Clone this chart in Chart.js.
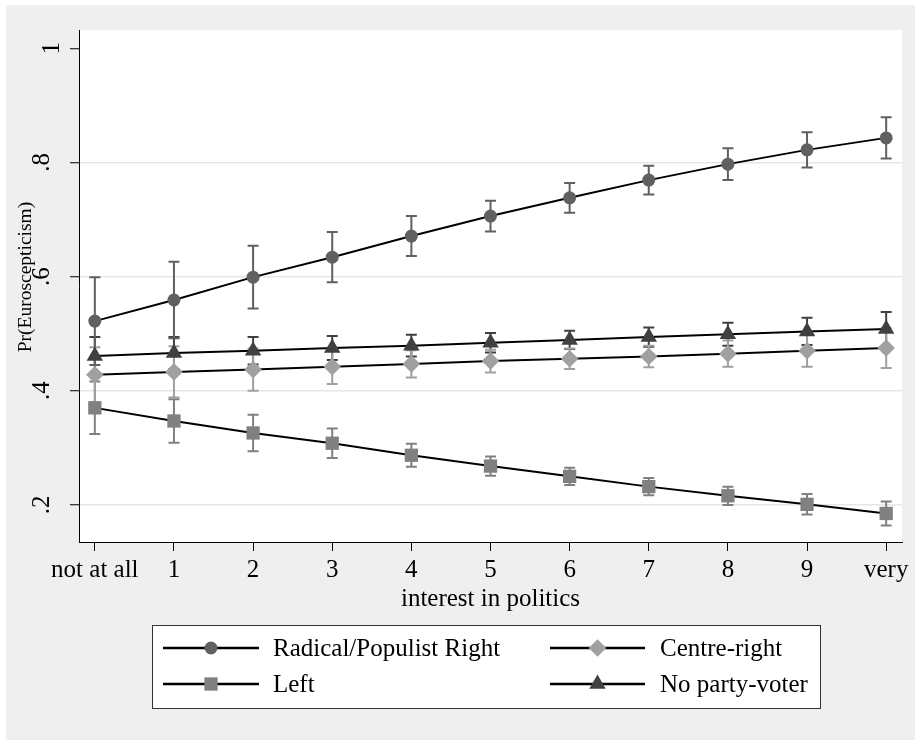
<!DOCTYPE html>
<html lang="en">
<head>
    <meta charset="UTF-8">
    <title>Pr(Euroscepticism) by interest in politics</title>
    <script src="https://cdn.jsdelivr.net/npm/chart.js"></script>
    <style>
        body {
            margin: 0;
            padding: 0;
            background-color: #ffffff;
        }

        #wrap {
            width: 915px;
            height: 740px;
        }
    </style>
</head>
<body>
    <div id="wrap">
        <canvas id="myChart" width="915" height="740"></canvas>
    </div>

    <script>
        // x positions and their tick labels
        var xVals = [0, 1, 2, 3, 4, 5, 6, 7, 8, 9, 10];
        var xLabels = ['not at all', '1', '2', '3', '4', '5', '6', '7', '8', '9', 'very'];
        var yTicks = [0.2, 0.4, 0.6, 0.8, 1];
        var yTickLabels = ['.2', '.4', '.6', '.8', '1'];

        // predicted probabilities with confidence bounds
        var radical   = [0.522, 0.559, 0.599, 0.634, 0.671, 0.706, 0.738, 0.769, 0.797, 0.822, 0.843];
        var radicalLo = [0.445, 0.492, 0.544, 0.590, 0.636, 0.679, 0.712, 0.744, 0.769, 0.791, 0.807];
        var radicalHi = [0.599, 0.626, 0.654, 0.678, 0.706, 0.733, 0.764, 0.794, 0.825, 0.853, 0.879];

        var centre   = [0.428, 0.433, 0.437, 0.442, 0.447, 0.452, 0.456, 0.460, 0.465, 0.470, 0.475];
        var centreLo = [0.380, 0.388, 0.400, 0.412, 0.423, 0.432, 0.438, 0.441, 0.442, 0.442, 0.440];
        var centreHi = [0.476, 0.478, 0.474, 0.472, 0.471, 0.472, 0.474, 0.479, 0.488, 0.498, 0.510];

        var left   = [0.370, 0.347, 0.326, 0.308, 0.287, 0.268, 0.250, 0.232, 0.216, 0.201, 0.185];
        var leftLo = [0.324, 0.309, 0.294, 0.282, 0.267, 0.251, 0.235, 0.217, 0.200, 0.183, 0.164];
        var leftHi = [0.416, 0.385, 0.358, 0.334, 0.307, 0.285, 0.265, 0.247, 0.232, 0.219, 0.206];

        var noParty   = [0.461, 0.466, 0.470, 0.475, 0.479, 0.484, 0.489, 0.494, 0.499, 0.504, 0.508];
        var noPartyLo = [0.428, 0.438, 0.446, 0.454, 0.460, 0.467, 0.473, 0.477, 0.479, 0.480, 0.478];
        var noPartyHi = [0.494, 0.494, 0.494, 0.496, 0.498, 0.501, 0.505, 0.511, 0.519, 0.528, 0.538];

        var FONT = '"Liberation Serif", "DejaVu Serif", serif';

        function pts(ys) {
            return xVals.map(function (x, i) { return { x: x, y: ys[i] }; });
        }

        function series(label, ys, lo, hi, color, style, radius) {
            return {
                label: label,
                data: pts(ys),
                lo: lo,
                hi: hi,
                borderColor: '#000000',
                borderWidth: 2,
                backgroundColor: color,
                pointBackgroundColor: color,
                pointBorderColor: color,
                pointBorderWidth: 0,
                pointStyle: style,
                pointRadius: radius,
                pointHoverRadius: radius,
                tension: 0,
                fill: false
            };
        }

        // background: grey graph region, white plot region
        var backgroundPlugin = {
            id: 'background',
            beforeDraw: function (chart) {
                var c = chart.ctx, a = chart.chartArea;
                c.save();
                c.fillStyle = '#ffffff';
                c.fillRect(0, 0, chart.width, chart.height);
                c.fillStyle = '#efefef';
                c.fillRect(6, 5, chart.width - 6, chart.height - 5);
                c.fillStyle = '#ffffff';
                c.fillRect(a.left, a.top, a.right - a.left, a.bottom - a.top);
                c.restore();
            }
        };

        // capped error bars, drawn under the lines and markers
        var errorBarPlugin = {
            id: 'errorBars',
            beforeDatasetsDraw: function (chart) {
                var c = chart.ctx;
                var xs = chart.scales.x, ys = chart.scales.y;
                var cap = 5.5;
                c.save();
                for (var d = chart.data.datasets.length - 1; d >= 0; d--) {
                    var ds = chart.data.datasets[d];
                    c.strokeStyle = ds.pointBackgroundColor;
                    c.lineWidth = 2;
                    for (var i = 0; i < xVals.length; i++) {
                        var px = xs.getPixelForValue(xVals[i]);
                        var p1 = ys.getPixelForValue(ds.lo[i]);
                        var p2 = ys.getPixelForValue(ds.hi[i]);
                        c.beginPath();
                        c.moveTo(px, p1); c.lineTo(px, p2);
                        c.moveTo(px - cap, p1); c.lineTo(px + cap, p1);
                        c.moveTo(px - cap, p2); c.lineTo(px + cap, p2);
                        c.stroke();
                    }
                }
                c.restore();
            }
        };

        // rotated y tick labels, axis titles and the boxed legend
        var textPlugin = {
            id: 'texts',
            afterDraw: function (chart) {
                var c = chart.ctx, a = chart.chartArea;
                var ys = chart.scales.y;
                c.save();
                c.fillStyle = '#000000';

                // y tick labels (rotated, Stata style)
                c.font = '25px ' + FONT;
                c.textAlign = 'center';
                c.textBaseline = 'alphabetic';
                for (var i = 0; i < yTicks.length; i++) {
                    var py = ys.getPixelForValue(yTicks[i]);
                    var bx0 = yTickLabels[i].length === 1 ? 59 : 49;
                    c.save();
                    c.translate(bx0, py);
                    c.rotate(-Math.PI / 2);
                    c.fillText(yTickLabels[i], 0, 0);
                    c.restore();
                }

                // y axis title
                c.font = '19.5px ' + FONT;
                c.save();
                c.translate(31, 277);
                c.rotate(-Math.PI / 2);
                c.fillText('Pr(Euroscepticism)', 0, 0);
                c.restore();

                // x axis title
                c.font = '25px ' + FONT;
                c.fillText('interest in politics', (a.left + a.right) / 2, 606);

                // legend
                var bx = 152.5, by = 625.5, bw = 668, bh = 83;
                c.fillStyle = '#ffffff';
                c.fillRect(bx, by, bw, bh);
                c.strokeStyle = '#333333';
                c.lineWidth = 1;
                c.strokeRect(bx, by, bw, bh);

                var cols = [{ x0: 163, x1: 259, tx: 273 }, { x0: 550, x1: 645, tx: 660 }];
                var rows = [648, 684];
                chart.data.datasets.forEach(function (ds, k) {
                    var col = cols[k % 2], ry = rows[Math.floor(k / 2)];
                    c.strokeStyle = '#000000';
                    c.lineWidth = 2.5;
                    c.beginPath();
                    c.moveTo(col.x0, ry);
                    c.lineTo(col.x1, ry);
                    c.stroke();
                    c.fillStyle = ds.pointBackgroundColor;
                    c.strokeStyle = ds.pointBackgroundColor;
                    Chart.helpers.drawPoint(c, {
                        pointStyle: ds.pointStyle,
                        radius: ds.pointRadius,
                        rotation: 0,
                        borderWidth: 0
                    }, (col.x0 + col.x1) / 2, ry);
                    c.fillStyle = '#000000';
                    c.textAlign = 'left';
                    c.textBaseline = 'middle';
                    c.font = '25px ' + FONT;
                    c.fillText(ds.label, col.tx, ry + 1);
                });
                c.restore();
            }
        };

        var ctx = document.getElementById('myChart').getContext('2d');
        var myChart = new Chart(ctx, {
            type: 'line',
            data: {
                datasets: [
                    series('Radical/Populist Right', radical, radicalLo, radicalHi, '#606060', 'circle', 6.5),
                    series('Centre-right', centre, centreLo, centreHi, '#a0a0a0', 'rectRot', 8.8),
                    series('Left', left, leftLo, leftHi, '#808080', 'rect', 9.4),
                    series('No party-voter', noParty, noPartyLo, noPartyHi, '#404040', 'triangle', 9.5)
                ]
            },
            options: {
                responsive: false,
                animation: false,
                devicePixelRatio: 1,
                layout: {
                    padding: { top: 30, right: 13, bottom: 138, left: 0 }
                },
                plugins: {
                    legend: { display: false },
                    tooltip: { enabled: false }
                },
                scales: {
                    x: {
                        type: 'linear',
                        min: -0.2,
                        max: 10.2,
                        afterBuildTicks: function (scale) {
                            scale.ticks = xVals.map(function (v) { return { value: v }; });
                        },
                        afterFit: function (scale) { scale.height = 60; },
                        grid: {
                            drawOnChartArea: false,
                            drawTicks: true,
                            tickLength: 9,
                            tickColor: '#000000',
                            tickWidth: 1
                        },
                        border: { display: true, color: '#000000', width: 1 },
                        ticks: {
                            autoSkip: false,
                            maxRotation: 0,
                            padding: 4,
                            color: '#000000',
                            font: { family: FONT, size: 25 },
                            callback: function (value) { return xLabels[xVals.indexOf(value)]; }
                        }
                    },
                    y: {
                        type: 'linear',
                        min: 0.135,
                        max: 1.032,
                        afterBuildTicks: function (scale) {
                            scale.ticks = yTicks.map(function (v) { return { value: v }; });
                        },
                        afterFit: function (scale) { scale.width = 79; },
                        grid: {
                            color: function (c) {
                                return (c.tick && c.tick.value < 0.99) ? '#e6e6e6' : 'rgba(0,0,0,0)';
                            },
                            lineWidth: 1.5,
                            drawTicks: true,
                            tickLength: 9,
                            tickColor: '#000000',
                            tickWidth: 1
                        },
                        border: { display: true, color: '#000000', width: 1 },
                        ticks: { display: false }
                    }
                }
            },
            plugins: [backgroundPlugin, errorBarPlugin, textPlugin]
        });
    </script>
</body>
</html>
